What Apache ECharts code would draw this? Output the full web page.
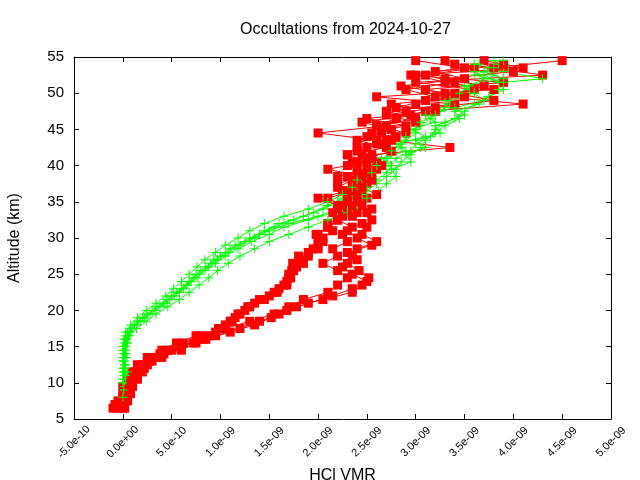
<!DOCTYPE html>
<html>
<head>
<meta charset="utf-8">
<script src="https://cdn.jsdelivr.net/npm/echarts@6/dist/echarts.min.js"></script>
<style>html,body{margin:0;padding:0;background:#fff}#c{width:640px;height:480px}</style>
</head>
<body>
<div id="c"></div>
<script>
// HCl VMR values are in units of 1e-9
const TITLE = 'Occultations from 2024-10-27';
const X_NAME = 'HCl VMR';
const Y_NAME = 'Altitude (km)';

const ALT_RED = [6.5,7.5,8.5,9.5,10.5,11.5,12.5,13.5,14.5,15.5,16.5,17.5,18.5,19.5,20.5,21.5,22.5,23.5,24.5,25.5,26.5,27.5,28.5,29.5,30.5,31.5,32.5,33.5,34.5,35.5,36.5,37.5,38.5,39.5,40.5,41.5,42.5,43.5,44.5,45.5,46.5,47.5,48.5,49.5,50.5,51.5,52.5,53.5,54.5];
const ALT_RED_2 = [7,8,9,10,11,12,13,14,15,16,17,18,19,20,21,22,23,24,25,26,27,28,29,30,31,32,33,34,35,36,37,38,39,40,41,42,43,44,45,46,47,48,49,50,51,52,53,54];
const ALT_G_A = [8,9,10,11,12,13,14,15,16,17,18,19,20,21,22,23,24,25,26,27,28,29,30,31,32,33,34,35,36,37,38,39,40,41,42,43,44,45,46,47,48,49,50,51,52,53,54];
const ALT_G_B = [8.5,9.5,10.5,11.5,12.5,13.5,14.5,15.5,16.5,17.5,18.5,19.5,20.5,21.5,22.5,23.5,24.5,25.5,26.5,27.5,28.5,29.5,30.5,31.5,32.5,33.5,34.5,35.5,36.5,37.5,38.5,39.5,40.5,41.5,42.5,43.5,44.5,45.5,46.5,47.5,48.5,49.5,50.5,51.5,52.5,53.5,54.5];

const RED_A = [-0.05,0.0,0.02,0.05,0.08,0.12,0.2,0.3,0.45,0.62,0.8,0.98,1.1,1.2,1.28,1.4,1.55,1.65,1.7,1.75,1.74,1.8,1.95,2.0,1.98,2.1,2.2,2.3,2.35,2.3,2.25,2.35,2.3,2.4,2.35,2.45,2.5,2.6,2.0,2.7,2.8,2.9,3.0,3.2,2.9,3.4,3.1,3.6,3.3];
const RED_B = [0.0,0.02,0.05,0.1,0.15,0.2,0.25,0.35,0.5,0.72,0.95,1.2,1.4,1.6,1.78,2.05,2.35,2.45,2.52,2.42,2.3,2.35,2.4,2.6,2.45,2.5,2.55,2.5,2.45,2.5,2.45,2.5,2.55,2.5,2.6,2.55,3.35,2.7,2.65,2.6,2.8,3.1,4.1,3.3,3.6,3.0,4.3,3.8,4.5];
const RED_C = [-0.1,-0.05,0.0,0.02,0.05,0.1,0.15,0.25,0.4,0.55,0.75,1.05,1.3,1.55,1.7,1.85,2.1,2.2,2.3,2.2,2.05,2.2,2.15,2.3,2.25,2.35,2.2,2.4,2.25,2.1,2.35,2.2,2.45,2.1,2.5,2.3,2.4,2.75,2.55,2.9,2.5,3.2,2.75,3.5,3.1,3.9,2.95,3.5,3.0];
const RED_D = [0.02,0.05,0.08,0.0,0.1,0.15,0.25,0.4,0.6,0.75,0.88,1.0,1.12,1.18,1.3,1.45,1.58,1.68,1.72,1.73,1.85,1.9,2.0,2.05,2.0,2.1,2.2,2.15,2.2,2.0,2.3,2.4,2.2,2.6,2.4,2.3,2.7,2.4,2.9,2.6,3.0,2.7,3.4,2.6,3.8,3.3,3.0,4.1,3.7];
const RED_E = [0.0,0.03,0.06,0.1,0.12,0.18,0.28,0.38,0.55,0.8,0.95,1.05,1.15,1.25,1.35,1.5,1.6,1.68,1.7,1.78,1.82,1.9,2.0,2.05,2.15,2.1,2.25,2.2,2.3,2.4,2.2,2.35,2.5,2.3,2.55,2.4,2.65,2.5,2.75,2.45,2.95,2.8,3.1,3.3,2.85,3.5,3.2,3.9];
const RED_F = [-0.08,0.0,0.04,0.08,0.14,0.22,0.3,0.42,0.6,0.85,1.1,1.35,1.52,1.68,1.9,2.15,2.35,2.5,2.35,2.25,2.4,2.3,2.55,2.4,2.3,2.45,2.35,2.55,2.4,2.6,2.45,2.55,2.4,2.65,2.5,2.75,2.6,2.8,2.65,3.0,2.7,3.2,3.8,3.4,3.7,3.3,4.0,3.4];

const GREEN_1 = [0.0,0.0,0.01,0.0,0.02,0.01,0.0,0.02,0.03,0.08,0.15,0.25,0.35,0.45,0.55,0.65,0.72,0.8,0.9,1.0,1.1,1.25,1.4,1.55,1.75,1.95,2.1,2.25,2.35,2.45,2.55,2.6,2.7,2.75,2.85,2.9,3.0,3.05,3.15,3.25,3.35,3.45,3.55,3.7,3.8,3.75,3.7];
const GREEN_2 = [0.02,0.0,0.03,0.01,0.0,0.02,0.01,0.03,0.02,0.05,0.12,0.2,0.3,0.42,0.5,0.6,0.68,0.75,0.85,0.93,1.05,1.15,1.3,1.45,1.6,1.85,2.05,2.2,2.35,2.4,2.55,2.5,2.75,2.65,2.9,2.8,3.1,2.95,3.2,3.1,3.4,3.3,3.6,3.5,4.3,3.9,3.6];
const GREEN_3 = [0.03,0.01,0.0,0.02,0.03,0.0,0.01,0.04,0.06,0.1,0.18,0.28,0.38,0.48,0.58,0.66,0.76,0.84,0.95,1.05,1.18,1.32,1.5,1.65,1.9,2.15,2.3,2.4,2.5,2.6,2.7,2.8,2.85,2.95,3.05,3.1,3.2,3.3,3.45,3.4,3.65,3.75,3.9,3.85,3.7,3.95,3.8];
const GREEN_4 = [0.0,0.02,0.01,0.03,0.02,0.0,0.03,0.01,0.04,0.07,0.14,0.22,0.33,0.44,0.53,0.62,0.7,0.78,0.88,0.97,1.08,1.2,1.35,1.5,1.7,2.0,2.2,2.3,2.45,2.5,2.6,2.7,2.75,2.8,2.95,3.0,3.15,3.2,3.3,3.5,3.4,3.7,3.6,3.5,3.9,3.7,3.85];
const GREEN_5 = [0.04,0.02,0.03,0.05,0.02,0.04,0.03,0.05,0.07,0.14,0.24,0.34,0.46,0.58,0.68,0.78,0.88,0.97,1.08,1.2,1.35,1.5,1.7,1.9,2.1,2.3,2.4,2.5,2.62,2.7,2.8,2.75,2.95,2.9,3.1,3.0,3.25,3.2,3.4,3.5,3.6,3.75,3.85,3.9,3.6,3.8,3.9];
const GREEN_6 = [0.0,0.01,0.0,0.02,0.01,0.0,0.02,0.0,0.01,0.03,0.08,0.15,0.24,0.34,0.44,0.52,0.6,0.68,0.76,0.84,0.95,1.05,1.18,1.3,1.45,1.65,1.9,2.1,2.25,2.35,2.4,2.55,2.6,2.7,2.75,2.85,2.9,3.0,3.05,3.2,3.3,3.35,3.45,3.55,3.7,3.6,3.65];

const PROFILES = [
  {v: RED_A, a: ALT_RED, kind: 'red'},
  {v: GREEN_1, a: ALT_G_B, kind: 'green'},
  {v: RED_B, a: ALT_RED, kind: 'red'},
  {v: GREEN_2, a: ALT_G_A, kind: 'green'},
  {v: RED_C, a: ALT_RED, kind: 'red'},
  {v: GREEN_3, a: ALT_G_B, kind: 'green'},
  {v: RED_D, a: ALT_RED, kind: 'red'},
  {v: GREEN_4, a: ALT_G_A, kind: 'green'},
  {v: RED_E, a: ALT_RED_2, kind: 'red'},
  {v: GREEN_5, a: ALT_G_B, kind: 'green'},
  {v: RED_F, a: ALT_RED_2, kind: 'red'},
  {v: GREEN_6, a: ALT_G_A, kind: 'green'}
];

const FONT = 'Liberation Sans';
const PLUS = 'path://M4,0h1v4h4v1h-4v4h-1v-4h-4v-1h4z';

function fmt(v) {
  if (Math.abs(v) < 1e-9) return '0.0e+00';
  const s = (v * 1e-9).toExponential(1);
  const parts = s.split('e');
  const sign = parts[1][0];
  const d = parts[1].slice(1).padStart(2, '0');
  return parts[0] + 'e' + sign + d;
}

const series = PROFILES.map(p => ({
  type: 'line',
  data: p.v.map((x, i) => [x, p.a[i]]),
  symbol: p.kind === 'red' ? 'rect' : PLUS,
  symbolSize: 9,
  showSymbol: true,
  animation: false,
  silent: true,
  lineStyle: {width: 1, color: p.kind === 'red' ? '#ff0000' : '#00ff00'},
  itemStyle: {color: p.kind === 'red' ? '#ff0000' : '#00ff00', borderWidth: 0}
}));

const axisCommon = {
  axisLine: {show: true, onZero: false, lineStyle: {color: '#000', width: 1}},
  axisTick: {show: true, inside: true, length: 5, lineStyle: {color: '#000'}},
  splitLine: {show: false}
};

const chart = echarts.init(document.getElementById('c'), null, {renderer: 'canvas'});
chart.setOption({
  animation: false,
  backgroundColor: '#fff',
  title: {text: TITLE, left: 235, top: 17, textStyle: {fontFamily: FONT, fontSize: 16, fontWeight: 'normal', color: '#000'}},
  grid: {left: 74, right: 29, top: 57, bottom: 61, containLabel: false, outerBoundsMode: 'none'},
  xAxis: [
    Object.assign({}, axisCommon, {
      type: 'value', position: 'bottom', min: -0.5, max: 5, interval: 0.5,
      name: X_NAME, nameLocation: 'middle', nameGap: 35,
      nameTextStyle: {fontFamily: FONT, fontSize: 16, color: '#000'},
      axisLabel: {rotate: 45, formatter: fmt, fontFamily: FONT, fontSize: 11, color: '#000', margin: 23, align: 'center', verticalAlign: 'middle'}
    }),
    Object.assign({}, axisCommon, {
      type: 'value', position: 'top', min: -0.5, max: 5, interval: 0.5,
      axisLabel: {show: false}
    })
  ],
  yAxis: [
    Object.assign({}, axisCommon, {
      type: 'value', position: 'left', min: 5, max: 55, interval: 5,
      name: Y_NAME, nameLocation: 'middle', nameGap: 51,
      nameTextStyle: {fontFamily: FONT, fontSize: 16, color: '#000'},
      axisLabel: {fontFamily: FONT, fontSize: 15, color: '#000', margin: 10}
    }),
    Object.assign({}, axisCommon, {
      type: 'value', position: 'right', min: 5, max: 55, interval: 5,
      axisLabel: {show: false}
    })
  ],
  series: series
});
</script>
</body>
</html>
